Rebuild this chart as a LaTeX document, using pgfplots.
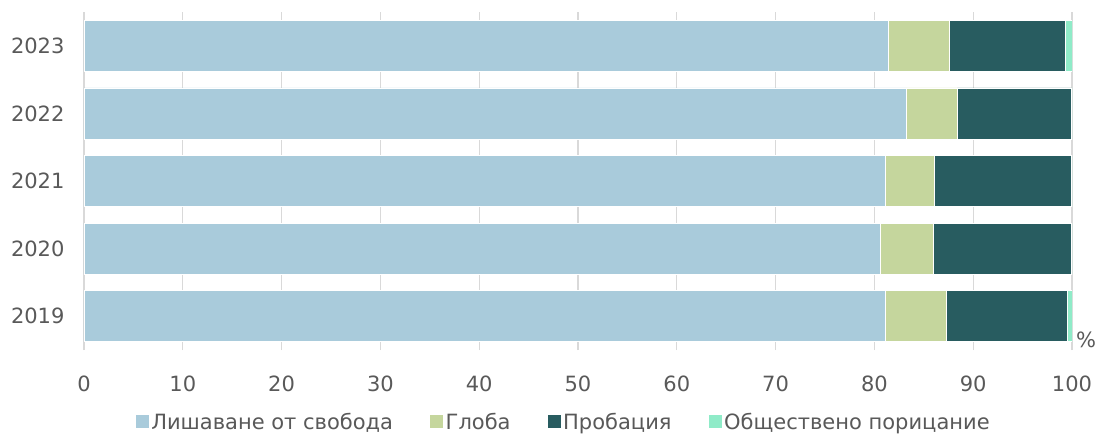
\documentclass[border=0pt]{standalone}
\usepackage{pgfplots}
\pgfplotsset{compat=1.18}
\usepackage{fontspec}
\setmainfont{DejaVu Sans}
\definecolor{c1}{RGB}{169,203,219}
\definecolor{c2}{RGB}{197,214,157}
\definecolor{c3}{RGB}{40,92,96}
\definecolor{c4}{RGB}{143,235,200}
\definecolor{txt}{RGB}{89,89,89}
\definecolor{gridc}{RGB}{217,217,217}
\begin{document}
\begin{tikzpicture}
\begin{axis}[
  xbar stacked,
  scale only axis,
  width=988pt, height=338pt,
  xmin=0, xmax=100, ymin=-0.5, ymax=4.5,
  bar width=51pt,
  ytick={0,1,2,3,4},
  yticklabels={2019,2020,2021,2022,2023},
  xtick={0,10,...,100},
  xmajorgrids,
  grid style={color=gridc, line width=1.3pt},
  axis line style={draw=none},
  major tick length=0pt,
  tick label style={font=\fontsize{21}{25}\selectfont, text=txt},
  xticklabel style={yshift=-22pt},
  yticklabel style={xshift=-16pt},
  /pgf/number format/assume math mode=true,
  xlabel={\%},
  xlabel style={at={(rel axis cs:1,0)}, anchor=center, xshift=14pt, yshift=10pt, font=\fontsize{21}{25}\selectfont, text=txt},
  legend style={at={(0.485,-0.212)}, anchor=center, draw=none, font=\fontsize{21}{25}\selectfont, text=txt, legend columns=4,
    /tikz/every even column/.append style={column sep=34pt}, inner sep=0pt, row sep=0pt},
  legend image code/.code={\fill[#1] (0pt,-7pt) rectangle (14pt,7pt);},
  every axis plot/.append style={draw=white, line width=0.6pt},
]
\addplot[fill=c1] coordinates {(81.1,0) (80.6,1) (81.1,2) (83.2,3) (81.4,4)};
\addplot[fill=c2] coordinates {(6.2,0) (5.4,1) (5.0,2) (5.2,3) (6.2,4)};
\addplot[fill=c3] coordinates {(12.2,0) (13.9,1) (13.8,2) (11.5,3) (11.7,4)};
\addplot[fill=c4] coordinates {(0.5,0) (0.1,1) (0.1,2) (0.1,3) (0.7,4)};
\legend{Лишаване от свобода, Глоба, Пробация, Обществено порицание}
\coordinate (O) at (rel axis cs:0,0);
\end{axis}
\pgfresetboundingbox
\path ([xshift=-84pt,yshift=-87pt]O) rectangle ([xshift=1024pt,yshift=350pt]O);
\end{tikzpicture}
\end{document}
